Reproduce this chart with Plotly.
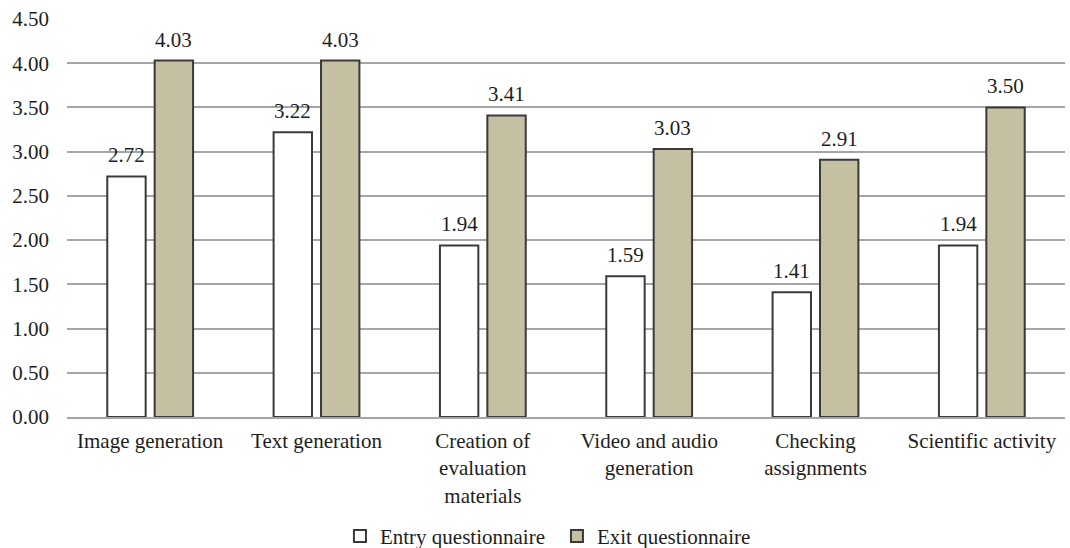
import plotly.graph_objects as go

categories = ["Image generation", "Text generation", "Creation of<br>evaluation<br>materials",
              "Video and audio<br>generation", "Checking<br>assignments", "Scientific activity"]
entry = [2.72, 3.22, 1.94, 1.59, 1.41, 1.94]
exit_ = [4.03, 4.03, 3.41, 3.03, 2.91, 3.50]
tick_vals = [0, 0.5, 1, 1.5, 2, 2.5, 3, 3.5, 4, 4.5]

font = dict(family="Liberation Serif, Times New Roman, serif", size=21, color="#1e1e1e")

W, H = 1070, 548
ML, MR, MT, MB = 67, 5, 19, 131
BARGAP = 0.43
cat_w = (W - ML - MR) / len(categories)
half_slot = (1 - BARGAP) * cat_w / 4

fig = go.Figure()
fig.add_trace(go.Bar(x=categories, y=entry, name="Entry questionnaire",
                     marker=dict(color="white", line=dict(color="#3a3a3a", width=2))))
fig.add_trace(go.Bar(x=categories, y=exit_, name="Exit questionnaire",
                     marker=dict(color="#C6C0A2", line=dict(color="#3a3a3a", width=2))))

for series, shift in ((entry, -half_slot), (exit_, half_slot)):
    for c, v in zip(categories, series):
        fig.add_annotation(x=c, y=v, text=f"{v:.2f}", showarrow=False,
                           xshift=shift, yshift=7, yanchor="bottom", font=font)

fig.update_layout(
    width=W, height=H,
    margin=dict(l=ML, r=MR, t=MT, b=MB, autoexpand=False),
    paper_bgcolor="white", plot_bgcolor="white",
    font=font,
    barmode="group", bargap=BARGAP, bargroupgap=0.19,
    showlegend=True,
    legend=dict(orientation="h", x=0.2735, xanchor="left", y=-0.30, yanchor="middle",
                font=font, itemwidth=30, traceorder="normal",
                entrywidth=172, entrywidthmode="pixels"),
    xaxis=dict(showline=True, linecolor="#A6A6A6", linewidth=1.5, ticks="",
               tickfont=font, showgrid=False, automargin=False, ticklabelstandoff=4),
    yaxis=dict(range=[0, 4.5], tickvals=tick_vals, tickformat=".2f",
               showgrid=True, gridcolor="#A6A6A6", gridwidth=1.5,
               zeroline=False, showline=False, ticks="", tickfont=font,
               automargin=False, ticklabelstandoff=17),
)

fig.write_html("out.html", config={"displayModeBar": False},
               post_script="document.body.style.margin='0';")
